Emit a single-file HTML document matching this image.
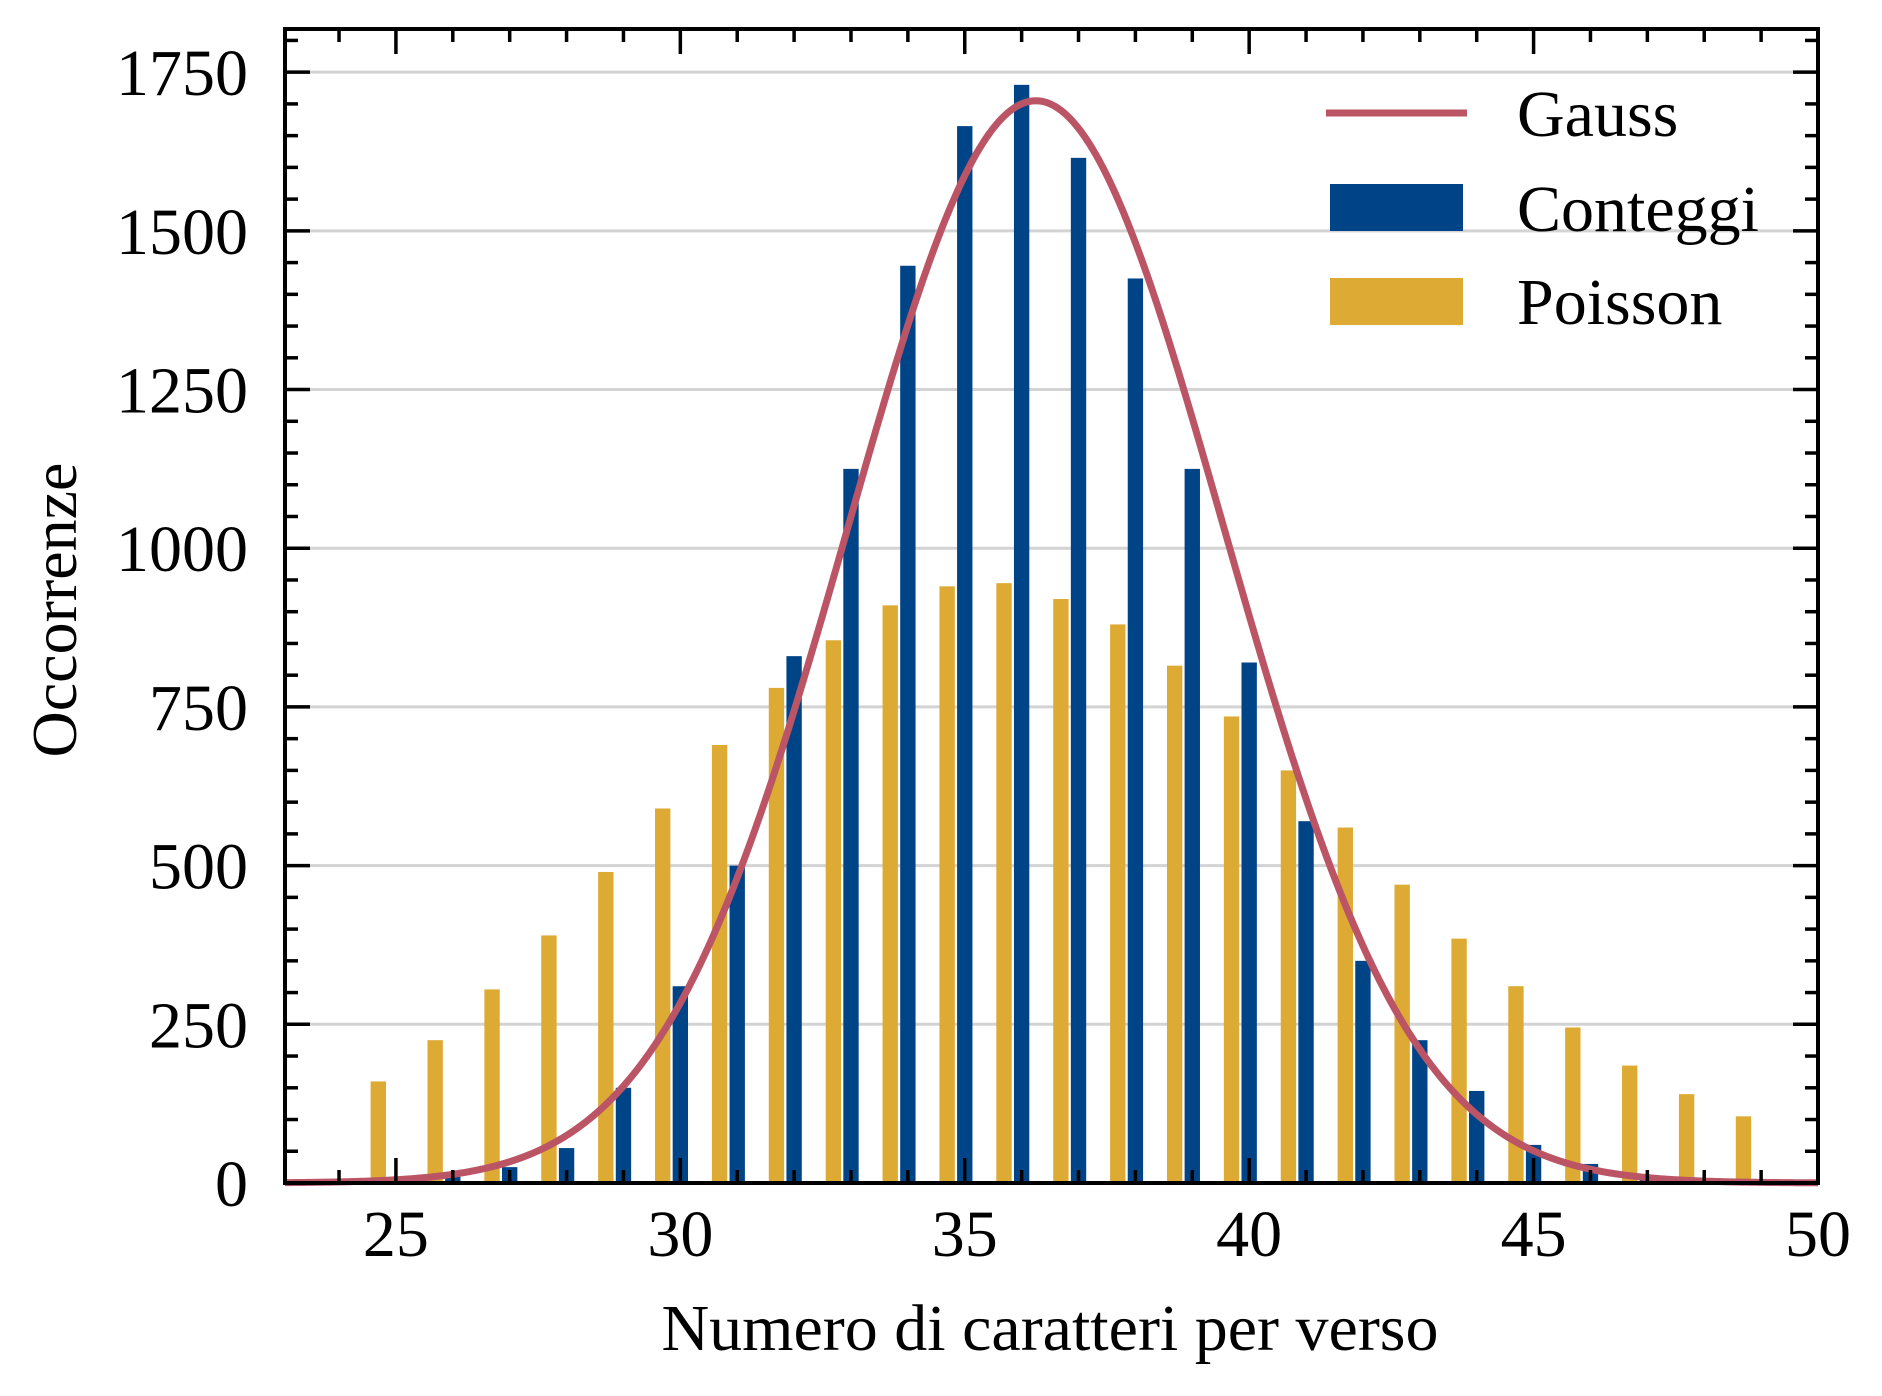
<!DOCTYPE html>
<html><head><meta charset="utf-8"><style>
html,body{margin:0;padding:0;background:#fff;}
svg{display:block;}
text{font-family:"Liberation Serif","DejaVu Serif",serif;fill:#000;}
</style></head><body>
<svg id="chart" width="1882" height="1396" viewBox="0 0 1882 1396" xmlns="http://www.w3.org/2000/svg">
<g id="grid"></g>
<g id="bars"></g>
<g id="curve"></g>
<g id="axes"></g>
<g id="legend">
  <line x1="1326" y1="113" x2="1467" y2="113" stroke="#bb5566" stroke-width="7"/>
  <text x="1517" y="136" font-size="66">Gauss</text>
  <rect x="1330" y="184" width="133" height="47" fill="#004488"/>
  <text x="1517" y="231" font-size="66">Conteggi</text>
  <rect x="1330" y="278" width="133" height="47" fill="#ddaa33"/>
  <text x="1517" y="324" font-size="66">Poisson</text>
</g>
<text x="1050" y="1350" font-size="66" text-anchor="middle">Numero di caratteri per verso</text>
<text x="0" y="0" font-size="64" text-anchor="middle" transform="translate(76,610) rotate(-90)">Occorrenze</text>
</svg>
<script>
const categories = [25,26,27,28,29,30,31,32,33,34,35,36,37,38,39,40,41,42,43,44,45,46,47,48,49];
const conteggi = [2,10,25,55,150,310,500,830,1125,1445,1665,1730,1615,1425,1125,820,570,350,225,145,60,30,10,3,1];
const poisson = [160,225,305,390,490,590,690,780,855,910,940,945,920,880,815,735,650,560,470,385,310,245,185,140,105];
const gaussParams = [1705, 36.25, 3.3]; // amplitude, mean, sigma
const xTicks = [25,30,35,40,45,50];
const yTicks = [0,250,500,750,1000,1250,1500,1750];

const L=285,R=1818,T=29,B=1183;
const X0=23.05,X1=50,Y0=0,Y1=1818;
const sx=v=>L+(v-X0)/(X1-X0)*(R-L);
const sy=v=>B-(v-Y0)/(Y1-Y0)*(B-T);
const NS="http://www.w3.org/2000/svg";
function mk(tag,attrs,parent){const e=document.createElementNS(NS,tag);for(const k in attrs)e.setAttribute(k,attrs[k]);parent.appendChild(e);return e;}
const grid=document.getElementById('grid'),bars=document.getElementById('bars'),curve=document.getElementById('curve'),axes=document.getElementById('axes');

yTicks.forEach(v=>{if(v===0)return;
  const g=mk('line',{x1:L,x2:R,y1:sy(v),y2:sy(v),stroke:'#d3d3d3','stroke-width':3},grid);
  
  
});
const bw=(R-L)/(X1-X0)*0.27;
categories.forEach((c,i)=>{
  const p=mk('rect',{x:sx(c-0.31)-bw/2,y:sy(poisson[i]),width:bw,height:B-sy(poisson[i]),fill:'#ddaa33'},bars);
  
  
  const b=mk('rect',{x:sx(c)-bw/2,y:sy(conteggi[i]),width:bw,height:B-sy(conteggi[i]),fill:'#004488'},bars);
  
  
});
let d='';
for(let x=X0;x<=X1+1e-9;x+=0.05){
  const y=gaussParams[0]*Math.exp(-Math.pow(x-gaussParams[1],2)/(2*gaussParams[2]*gaussParams[2]));
  d+=(d?'L':'M')+sx(x).toFixed(2)+','+sy(y).toFixed(2);
}
const path=mk('path',{d:d,fill:'none',stroke:'#bb5566','stroke-width':7},curve);



for(let v=24;v<=50;v++){
  const major=v%5===0,len=major?25:13;
  mk('line',{x1:sx(v),x2:sx(v),y1:B,y2:B-len,stroke:'#000','stroke-width':3.5},axes);
  mk('line',{x1:sx(v),x2:sx(v),y1:T,y2:T+len,stroke:'#000','stroke-width':3.5},axes);
}
for(let v=0;v<=1800;v+=50){
  const major=v%250===0,len=major?25:13;
  mk('line',{x1:L,x2:L+len,y1:sy(v),y2:sy(v),stroke:'#000','stroke-width':3.5},axes);
  mk('line',{x1:R,x2:R-len,y1:sy(v),y2:sy(v),stroke:'#000','stroke-width':3.5},axes);
}
const frame=mk('rect',{x:L,y:T,width:R-L,height:B-T,fill:'none',stroke:'#000','stroke-width':4},axes);


xTicks.forEach(v=>{
  const t=mk('text',{x:sx(v),y:1256,'font-size':66,'text-anchor':'middle'},axes);
  t.textContent=v;
  
  
});
yTicks.forEach(v=>{
  const t=mk('text',{x:248,y:sy(v)+23,'font-size':66,'text-anchor':'end'},axes);
  t.textContent=v;
  
  
});
</script>
</body></html>
